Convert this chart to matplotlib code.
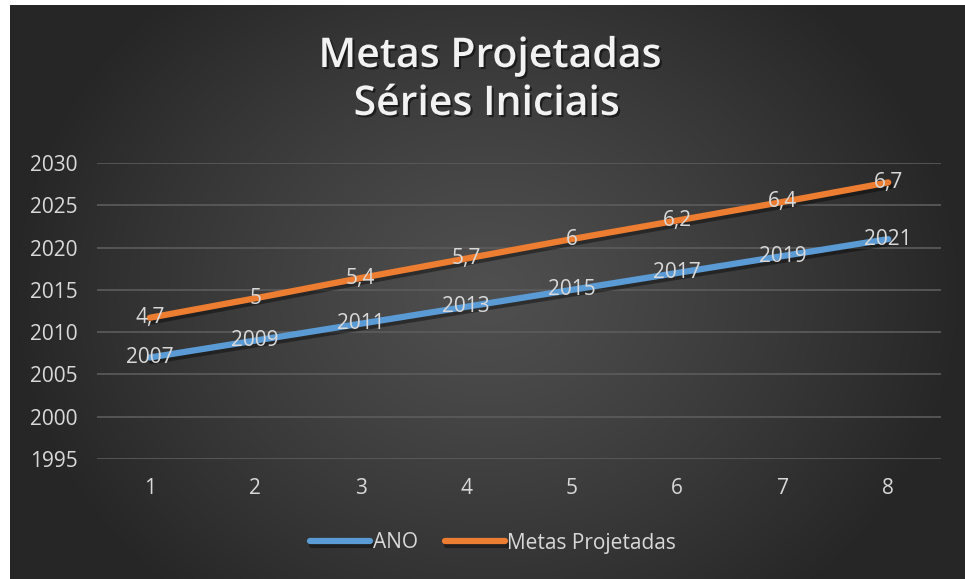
import numpy as np
import matplotlib
matplotlib.use("Agg")
import matplotlib.pyplot as plt
import matplotlib.patheffects as pe

categories = [1, 2, 3, 4, 5, 6, 7, 8]
ano = [2007, 2009, 2011, 2013, 2015, 2017, 2019, 2021]
metas = [4.7, 5.0, 5.4, 5.7, 6.0, 6.2, 6.4, 6.7]
metas_labels = ["4,7", "5", "5,4", "5,7", "6", "6,2", "6,4", "6,7"]
yticks = [1995, 2000, 2005, 2010, 2015, 2020, 2025, 2030]

plt.rcParams['font.family'] = ['Open Sans', 'DejaVu Sans']
W, H = 965, 579
fig = plt.figure(figsize=(W / 100, H / 100), dpi=100, facecolor='white')

# background gradient panel
bg = fig.add_axes([10 / W, 0, (W - 10) / W, (H - 5) / H])
bg.set_axis_off()
nx, ny = 400, 240
xx, yy = np.meshgrid(np.linspace(-1, 1, nx), np.linspace(-1, 1, ny))
r = np.sqrt((xx / 1.0) ** 2 + (yy / 1.4) ** 2)
r = np.clip(r, 0, 1)
val = 0.31 - 0.16 * r ** 1.2
img = np.dstack([val, val, val])
bg.imshow(img, aspect='auto', extent=[0, 1, 0, 1], interpolation='bilinear')
bg.set_xlim(0, 1)
bg.set_ylim(0, 1)

ax = fig.add_axes([97 / W, 1 - 459 / H, (941 - 97) / W, (459 - 163) / H])
ax.patch.set_alpha(0)
for s in ax.spines.values():
    s.set_visible(False)
ax.set_xlim(0.5, 8.5)
ax.set_ylim(1995, 2030)
ax.set_yticks(yticks)
ax.set_xticks(categories)
ax.yaxis.grid(True, color='#5c5c5c', linewidth=1.2)
ax.set_axisbelow(True)
ax.tick_params(axis='both', length=0, colors='#d9d9d9', labelsize=15)
ax.tick_params(axis='y', pad=14)
ax.tick_params(axis='x', pad=14)

top = [a + m for a, m in zip(ano, metas)]
shadow = [pe.SimpleLineShadow(offset=(1.5, -2.5), shadow_color='black', alpha=0.4), pe.Normal()]
ax.plot(categories, ano, color='#5b9bd5', linewidth=4.5, solid_capstyle='round',
        label='ANO', path_effects=shadow, zorder=3)
ax.plot(categories, top, color='#ed7d31', linewidth=4.5, solid_capstyle='round',
        label='Metas Projetadas', path_effects=shadow, zorder=3)

for x, y, t in zip(categories, ano, ano):
    ax.text(x, y, str(t), ha='center', va='center', color='#d9d9d9', fontsize=15, zorder=5)
for x, y, t in zip(categories, top, metas_labels):
    ax.text(x, y, t, ha='center', va='center', color='#d9d9d9', fontsize=15, zorder=5)

title_fx = [pe.withSimplePatchShadow(offset=(1.5, -1.5), shadow_rgbFace='black', alpha=0.5)]
fig.text(490 / W, 1 - 67 / H, "Metas Projetadas", ha='center', va='baseline',
         color='#f2f2f2', fontsize=29.5, fontweight='semibold', path_effects=title_fx)
fig.text(487 / W, 1 - 115 / H, "Séries Iniciais", ha='center', va='baseline',
         color='#f2f2f2', fontsize=29.5, fontweight='semibold', path_effects=title_fx)

leg = fig.legend(loc='center', bbox_to_anchor=(493 / W, 1 - 543 / H), ncol=2, frameon=False,
                 fontsize=15, labelcolor='#d9d9d9', handlelength=2.9, handletextpad=0.1,
                 columnspacing=1.3)

fig.savefig('out.png', dpi=100, facecolor='white')
